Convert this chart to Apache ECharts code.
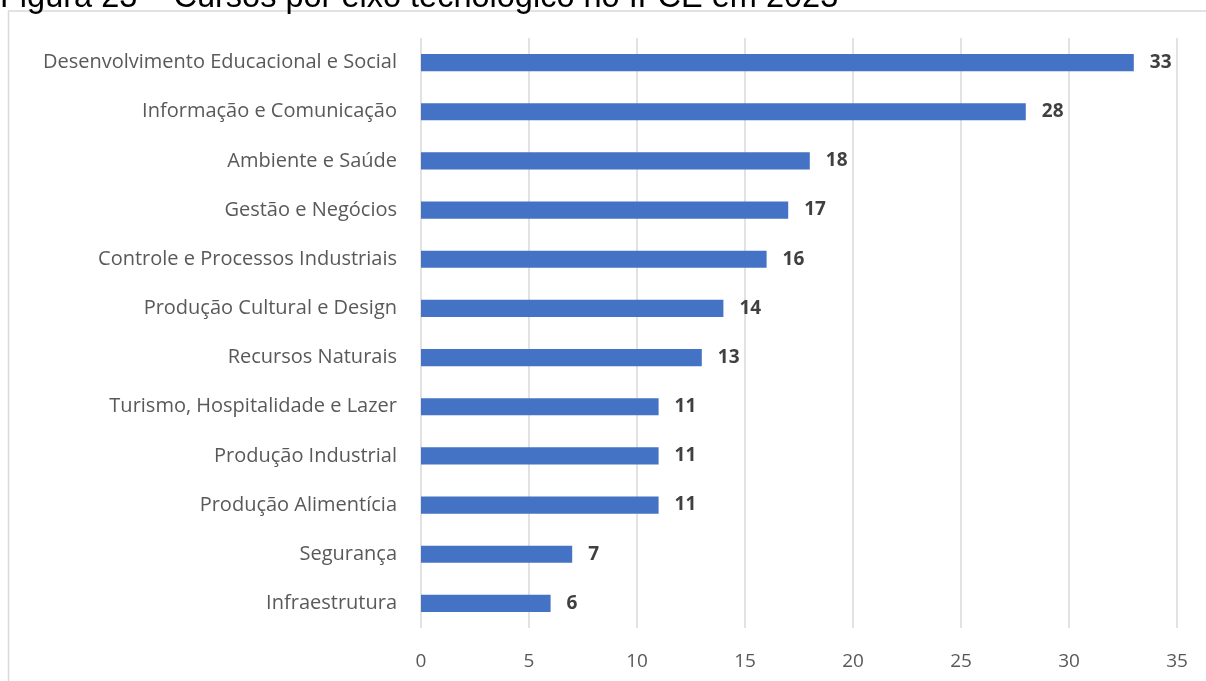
<!DOCTYPE html>
<html>
<head>
<meta charset="utf-8">
<script src="https://cdn.jsdelivr.net/npm/echarts@6/dist/echarts.min.js"></script>
<style>
  html, body { margin: 0; padding: 0; background: #fff; }
  #chart { width: 1206px; height: 681px; }
</style>
</head>
<body>
<div id="chart"></div>
<script>
// eixos tecnológicos, de cima para baixo
var categories = [
  "Desenvolvimento Educacional e Social",
  "Informação e Comunicação",
  "Ambiente e Saúde",
  "Gestão e Negócios",
  "Controle e Processos Industriais",
  "Produção Cultural e Design",
  "Recursos Naturais",
  "Turismo, Hospitalidade e Lazer",
  "Produção Industrial",
  "Produção Alimentícia",
  "Segurança",
  "Infraestrutura"
];
var cursos = [33, 28, 18, 17, 16, 14, 13, 11, 11, 11, 7, 6];
var titulo = "Figura 23 – Cursos por eixo tecnológico no IFCE em 2023";

var font = "'Open Sans', Lato, sans-serif";
var chart = echarts.init(document.getElementById("chart"));
chart.setOption({
  animation: false,
  textStyle: { fontFamily: font },
  graphic: [
    {
      type: "rect",
      shape: { x: 8.5, y: 11, width: 1300, height: 800 },
      style: { fill: "none", stroke: "#d9d9d9", lineWidth: 1.5 },
      silent: true
    },
    {
      type: "text",
      left: 0,
      top: -18,
      style: {
        text: titulo,
        font: "32.5px 'Liberation Sans', Arial, sans-serif",
        fill: "#000"
      }
    }
  ],
  grid: { left: 421, right: 29, top: 38, bottom: 53 },
  xAxis: {
    type: "value",
    min: 0,
    max: 35,
    interval: 5,
    axisLine: { show: false },
    axisTick: { show: false },
    splitLine: { lineStyle: { color: "#d9d9d9", width: 1.5 } },
    axisLabel: { color: "#595959", fontSize: 19, margin: 24, fontFamily: font }
  },
  yAxis: {
    type: "category",
    inverse: true,
    data: categories,
    axisLine: { show: false },
    axisTick: { show: false },
    axisLabel: { color: "#595959", fontSize: 20, margin: 24, fontFamily: font }
  },
  series: [
    {
      type: "bar",
      data: cursos,
      barWidth: "35%",
      itemStyle: { color: "#4472c4" },
      label: {
        show: true,
        position: "right",
        distance: 16,
        color: "#404040",
        fontWeight: "bold",
        fontSize: 19,
        fontFamily: font
      }
    }
  ]
});
</script>
</body>
</html>
